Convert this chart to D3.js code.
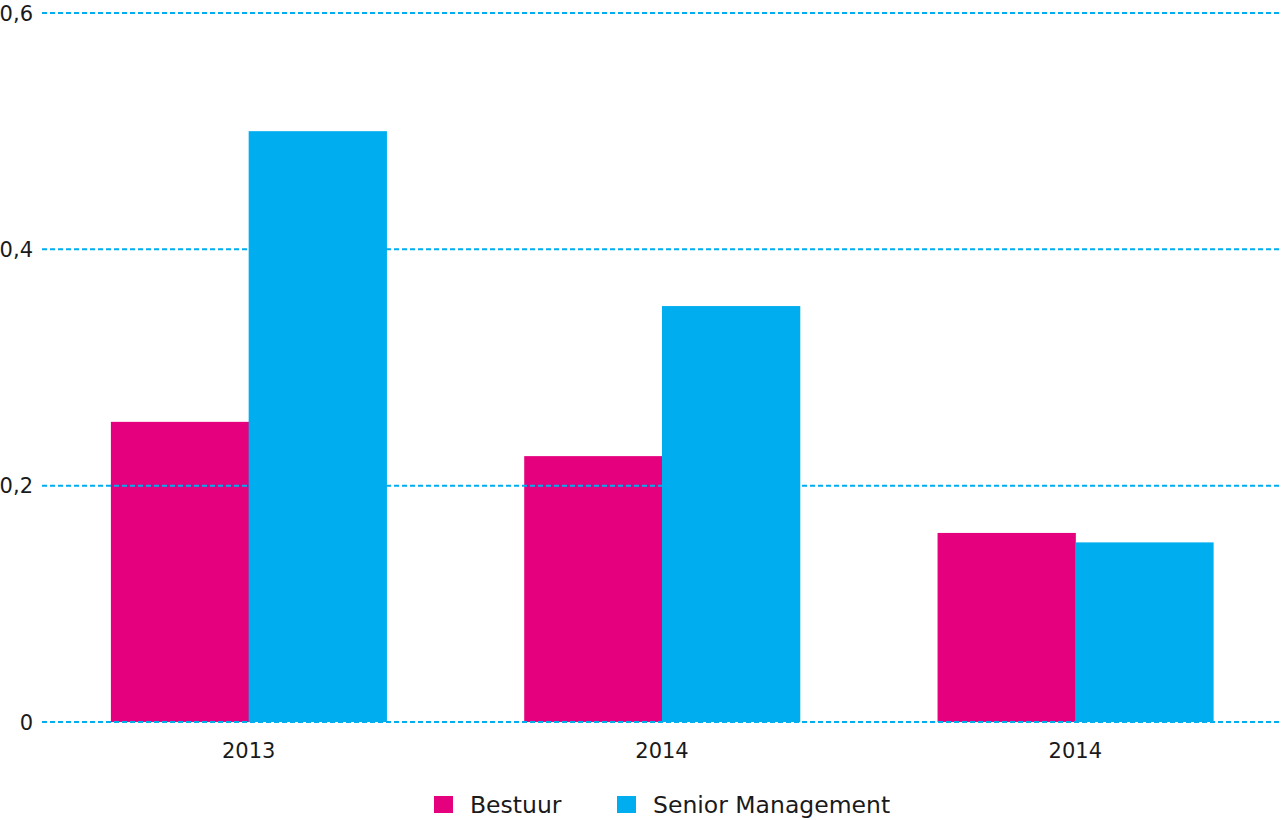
<!DOCTYPE html>
<html>
<head>
<meta charset="utf-8">
<script src="https://cdn.jsdelivr.net/npm/d3@7"></script>
<style>
	body { margin: 0; background: #fff; }
	text { font-family: "DejaVu Sans", "Liberation Sans", sans-serif; fill: #1a1a1a; }
</style>
</head>
<body>
<svg id="svgarea" width="1282" height="820"></svg>
<script>
const years		= ['2013', '2014', '2014'];
const bestuur	= [0.254, 0.225, 0.160];
const senior	= [0.500, 0.352, 0.152];
const yTicks	= [0, 0.2, 0.4, 0.6];
const seriesNames	= ['Bestuur', 'Senior Management'];
const colors	= ['#e5007d', '#00aeef'];

const svg = d3.select('#svgarea');

// scales
var x = d3.scaleBand()
	.domain(d3.range(years.length))
	.range([42, 1282])
	.paddingInner(1 / 3)
	.paddingOuter(1 / 6);
var sub = d3.scaleBand()
	.domain([0, 1])
	.range([0, x.bandwidth()]);
var y = d3.scaleLinear()
	.domain([0, 0.6])
	.range([722, 13]);

var fmt = function(d){ return d === 0 ? '0' : d3.format('.1f')(d).replace('.', ','); };

// bars
[bestuur, senior].forEach(function(values, s){
	svg.append('g').selectAll('rect')
		.data(values)
		.enter().append('rect')
		.attr('x', function(d, i){ return x(i) + sub(s); })
		.attr('y', function(d){ return y(d); })
		.attr('width', sub.bandwidth() + 0.5)
		.attr('height', function(d){ return y(0) - y(d); })
		.attr('fill', colors[s]);
});

// grid lines drawn over the bars
svg.append('g').selectAll('line')
	.data(yTicks)
	.enter().append('line')
	.attr('x1', 42)
	.attr('x2', 1282)
	.attr('y1', function(d){ return y(d); })
	.attr('y2', function(d){ return y(d); })
	.attr('stroke', '#00aeef')
	.attr('stroke-width', 2)
	.attr('stroke-dasharray', '5,3');

// y labels
svg.append('g').selectAll('text')
	.data(yTicks)
	.enter().append('text')
	.attr('x', 33)
	.attr('y', function(d){ return y(d) + 7.5; })
	.attr('text-anchor', 'end')
	.attr('font-size', 21)
	.text(fmt);

// x labels
svg.append('g').selectAll('text')
	.data(years)
	.enter().append('text')
	.attr('x', function(d, i){ return x(i) + x.bandwidth() / 2; })
	.attr('y', 758)
	.attr('text-anchor', 'middle')
	.attr('font-size', 21)
	.text(function(d){ return d; });

// legend
var legendX = [434, 617];
var lg = svg.append('g').selectAll('g')
	.data(seriesNames)
	.enter().append('g')
	.attr('transform', function(d, i){ return 'translate(' + legendX[i] + ',796)'; });
lg.append('rect')
	.attr('width', 19)
	.attr('height', 17)
	.attr('fill', function(d, i){ return colors[i]; });
lg.append('text')
	.attr('x', 36)
	.attr('y', 17)
	.attr('font-size', 23.5)
	.text(function(d){ return d; });
</script>
</body>
</html>
